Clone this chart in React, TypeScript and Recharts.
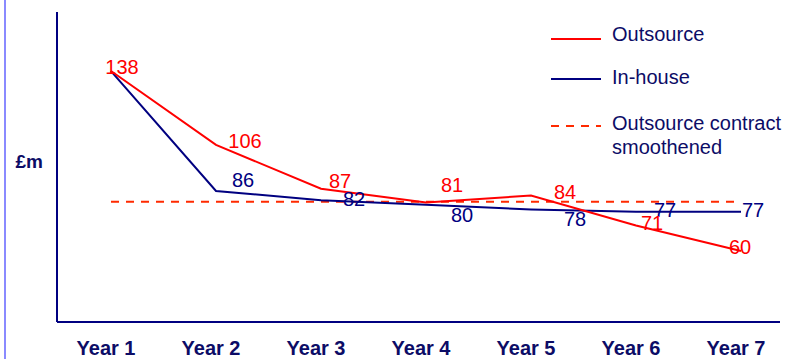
import React from "react";
import { LineChart, Line, XAxis, YAxis, Legend, LabelList } from "recharts";

const years = ["Year 1", "Year 2", "Year 3", "Year 4", "Year 5", "Year 6", "Year 7"];
const outsource = [138, 106, 87, 81, 84, 71, 60];
const inHouse = [138, 86, 82, 80, 78, 77, 77];
const smoothed = [81.3, 81.3, 81.3, 81.3, 81.3, 81.3, 81.3];

// hand-placed value labels: [dx, dy] from each point, null = no label
const outsourceLabelShift: ([number, number] | null)[] = [
  [11, -4], [29, -4], [19, -8], [26, -18], [34, -4], [16, -3], [-1, -4],
];
const inHouseLabelShift: ([number, number] | null)[] = [
  null, [27, -11], [33, -1], [36, 10], [44, 10], [29, -2], [12, -2],
];

const FONT = "'Liberation Sans', Arial, sans-serif";
const NAVY = "#000080";
const TEXT_NAVY = "#0c0c66";

const data = years.map((year, i) => ({
  year,
  outsource: outsource[i],
  inHouse: inHouse[i],
  smoothed: smoothed[i],
}));

const legendRows = [
  { name: ["Outsource"], color: "#ff0000", dash: undefined as string | undefined },
  { name: ["In-house"], color: NAVY, dash: undefined },
  { name: ["Outsource contract", "smoothened"], color: "#ff2a00", dash: "8 7" },
];

const valueLabel =
  (shift: ([number, number] | null)[], color: string) => (props: any) => {
    const { x, y, index, value } = props;
    const s = shift[index];
    if (!s) return null;
    return (
      <text
        x={x + s[0]}
        y={y + s[1]}
        dy={7}
        textAnchor="middle"
        fill={color}
        fontSize={20}
        fontFamily={FONT}
      >
        {value}
      </text>
    );
  };

const YearTick = ({ x, y, payload }: any) => (
  <text
    x={x - 5}
    y={y + 33}
    textAnchor="middle"
    fill={TEXT_NAVY}
    fontSize={20}
    fontWeight="bold"
    fontFamily={FONT}
  >
    {payload.value}
  </text>
);

const LegendBox = () => {
  const lineY = [39, 79, 126];
  const textY = [41, 84, 130];
  return (
    <svg width={257} height={170} style={{ display: "block" }}>
      {legendRows.map((row, i) => (
        <g key={i}>
          <line
            x1={11}
            x2={61}
            y1={lineY[i]}
            y2={lineY[i]}
            stroke={row.color}
            strokeWidth={2}
            strokeDasharray={row.dash}
          />
          {row.name.map((t, j) => (
            <text
              key={t}
              x={72}
              y={textY[i] + j * 24}
              fill={TEXT_NAVY}
              fontSize={20}
              fontFamily={FONT}
            >
              {t}
            </text>
          ))}
        </g>
      ))}
    </svg>
  );
};

const PoundLabel = ({ viewBox }: any) => (
  <text
    x={viewBox.x - 13}
    y={viewBox.y + viewBox.height / 2}
    dy={1}
    textAnchor="end"
    fill={TEXT_NAVY}
    fontSize={19}
    fontWeight="bold"
    fontFamily={FONT}
  >
    £m
  </text>
);

export default function App() {
  return (
    <div style={{ position: "absolute", left: 0, top: 0, width: 797, height: 359, background: "#fff" }}>
      <div style={{ position: "absolute", left: 4, top: 0, width: 2, height: 359, background: "#8a8aff" }} />
      <LineChart
        width={797}
        height={359}
        data={data}
        margin={{ top: 12, right: 17, bottom: 0, left: 56 }}
      >
        <XAxis
          dataKey="year"
          height={37}
          padding={{ left: 54, right: 39 }}
          axisLine={{ stroke: NAVY, strokeWidth: 2 }}
          tickLine={false}
          tickSize={0}
          tickMargin={0}
          tick={<YearTick />}
          interval={0}
        />
        <YAxis
          width={1}
          domain={[29.2, 163.6]}
          allowDataOverflow
          axisLine={{ stroke: NAVY, strokeWidth: 2 }}
          tick={false}
          tickLine={false}
          label={<PoundLabel />}
        />
        <Legend
          layout="horizontal"
          verticalAlign="middle"
          align="center"
          content={<LegendBox />}
          wrapperStyle={{ top: 0, left: 540, width: 257, height: 170 }}
        />
        <Line
          dataKey="smoothed"
          name="Outsource contract smoothened"
          stroke="#ff2a00"
          strokeWidth={2}
          strokeDasharray="8 7"
          dot={false}
          isAnimationActive={false}
        />
        <Line
          dataKey="inHouse"
          name="In-house"
          stroke={NAVY}
          strokeWidth={2}
          dot={false}
          isAnimationActive={false}
        >
          <LabelList dataKey="inHouse" content={valueLabel(inHouseLabelShift, NAVY)} />
        </Line>
        <Line
          dataKey="outsource"
          name="Outsource"
          stroke="#ff0000"
          strokeWidth={2}
          dot={false}
          isAnimationActive={false}
        >
          <LabelList dataKey="outsource" content={valueLabel(outsourceLabelShift, "#ff0000")} />
        </Line>
      </LineChart>
    </div>
  );
}
